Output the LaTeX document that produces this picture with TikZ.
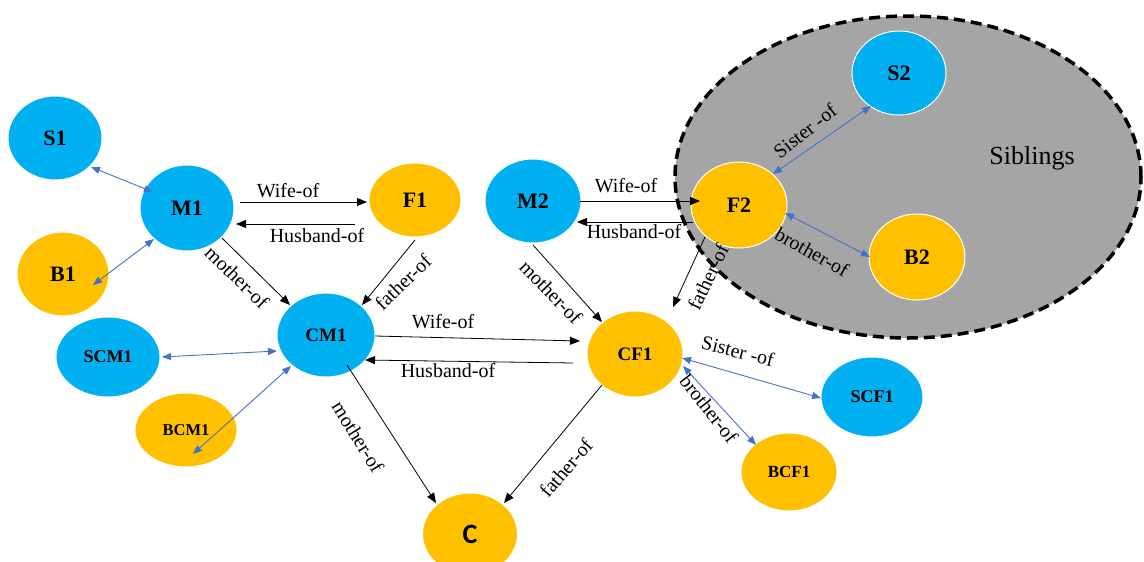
\documentclass[tikz,border=0pt]{standalone}
\usepackage{fontspec}
\setmainfont{Liberation Serif}
\newfontfamily\cfont{Carlito}
\usetikzlibrary{shapes.geometric,arrows.meta,calc}
\definecolor{nodeblue}{HTML}{00B0F0}
\definecolor{nodeorange}{HTML}{FFC000}
\definecolor{linkblue}{HTML}{4472C4}
\definecolor{sibgray}{HTML}{A5A5A5}
\tikzset{
  pnode/.style={ellipse, draw=white, line width=1pt, inner sep=0pt},
  blu/.style={pnode, fill=nodeblue},
  org/.style={pnode, fill=nodeorange},
  big/.style={font=\bfseries\fontsize{22}{24}\selectfont},
  mid/.style={font=\bfseries\fontsize{19}{21}\selectfont},
  sml/.style={font=\bfseries\fontsize{17}{19}\selectfont},
  rel/.style={draw=black, line width=0.8pt, -{Triangle[length=10pt,width=8pt]}},
  sib/.style={draw=linkblue, line width=0.9pt, {Triangle[length=9pt,width=7pt]}-{Triangle[length=9pt,width=7pt]}},
  lab/.style={font=\fontsize{20}{22}\selectfont, inner sep=0pt},
}
\begin{document}
\begin{tikzpicture}[x=1pt,y=-1pt]
\path[use as bounding box] (0,0) rectangle (1144,562);
% siblings group
\node (sibs) [ellipse, fill=sibgray, draw=black, line width=3.5pt, dash pattern=on 11pt off 6pt, minimum width=466pt, minimum height=322pt, inner sep=0pt] at (908,177) {};
\node (siblab) [font=\fontsize{26}{28}\selectfont, inner sep=0pt] at (1032,158) {Siblings};
% nodes
\node (S1) [blu,big,minimum width=94pt,minimum height=84pt] at (55,138) {S1};
\node (M1) [blu,big,minimum width=94pt,minimum height=86pt] at (187,208) {M1};
\node (F1) [org,big,minimum width=92pt,minimum height=74pt] at (415,200) {F1};
\node (B1) [org,big,minimum width=92pt,minimum height=84pt] at (63,274) {B1};
\node (CM1) [blu,mid,minimum width=98pt,minimum height=84pt] at (326,335) {CM1};
\node (SCM1) [blu,font=\bfseries\fontsize{18}{20}\selectfont,minimum width=104pt,minimum height=80pt] at (108,357) {SCM1};
\node (BCM1) [org,font=\bfseries\fontsize{16.5}{18}\selectfont,minimum width=102pt,minimum height=74pt] at (186,430) {BCM1};
\node (C) [org,font=\cfont\bfseries\fontsize{28}{30}\selectfont,minimum width=95pt,minimum height=82pt] at (470,534) {C};
\node (CF1) [org,mid,minimum width=96pt,minimum height=86pt] at (635,354) {CF1};
\node (BCF1) [org,sml,minimum width=96pt,minimum height=78pt] at (789,472) {BCF1};
\node (SCF1) [blu,font=\bfseries\fontsize{18}{20}\selectfont,minimum width=102pt,minimum height=80pt] at (872,397) {SCF1};
\node (M2) [blu,big,minimum width=96pt,minimum height=84pt] at (533,201) {M2};
\node (F2) [org,big,minimum width=96pt,minimum height=86pt] at (739,205) {F2};
\node (S2) [blu,big,minimum width=94pt,minimum height=84pt] at (899,73) {S2};
\node (B2) [org,big,minimum width=96pt,minimum height=86pt] at (917,257) {B2};
% blue sibling links
\draw[sib] ($(S1)+(36,29)$) -- ($(M1)+(-34,-16)$);
\draw[sib] ($(B1)+(30,11)$) -- ($(M1)+(-33,31)$);
\draw[sib] ($(SCM1)+(54,0)$) -- ($(CM1)+(-49,16)$);
\draw[sib] ($(BCM1)+(7,24)$) -- ($(CM1)+(-35,31)$);
\draw[sib] ($(F2)+(34,-31)$) -- ($(S2)+(-28,33)$);
\draw[sib] ($(F2)+(46,8)$) -- ($(B2)+(-47,0)$);
\draw[sib] ($(CF1)+(47,4)$) -- ($(SCF1)+(-51,1)$);
\draw[sib] ($(CF1)+(48,12)$) -- ($(BCF1)+(-33,-27)$);
% black relation links
\draw[rel] ($(M1)+(53,-6)$) -- ($(F1)+(-48,2)$);
\draw[rel] ($(F1)+(-60,24)$) -- ($(M1)+(49,16)$);
\draw[rel] ($(M1)+(35,30)$) -- ($(CM1)+(-36,-30)$);
\draw[rel] ($(F1)+(0,40)$) -- ($(CM1)+(36,-30)$);
\draw[rel] ($(CM1)+(49,1)$) -- ($(CF1)+(-55,-13)$);
\draw[rel] ($(CF1)+(-62,9)$) -- ($(CM1)+(39,25)$);
\draw[rel] ($(CM1)+(21,30)$) -- ($(C)+(-34,-31)$);
\draw[rel] ($(CF1)+(-33,31)$) -- ($(C)+(34,-31)$);
\draw[rel] ($(M2)+(47,0)$) -- ($(F2)+(-39,-4)$);
\draw[rel] ($(F2)+(-46,17)$) -- ($(M2)+(44,21)$);
\draw[rel] ($(M2)+(0,44)$) -- ($(CF1)+(-33,-32)$);
\draw[rel] ($(F2)+(-34,32)$) -- ($(CF1)+(38,-47)$);
% labels
\node (l1) [lab] at (288,191) {Wife-of};
\node (l2) [lab] at (317,236) {Husband-of};
\node (l3) [lab,rotate=-44] at (237,277) {mother-of};
\node (l4) [lab,rotate=44] at (403,282) {father-of};
\node (l5) [lab] at (443,322) {Wife-of};
\node (l6) [lab] at (448,371) {Husband-of};
\node (l7) [lab,rotate=-58] at (358,437) {mother-of};
\node (l8) [lab,rotate=49] at (566,468) {father-of};
\node (l9) [lab] at (626,186) {Wife-of};
\node (l10) [lab] at (634,232) {Husband-of};
\node (l11) [lab,rotate=-46] at (551,292) {mother-of};
\node (l12) [lab,rotate=64] at (708,277) {father-of};
\node (l13) [lab,rotate=38] at (805,131) {Sister -of};
\node (l14) [lab,rotate=-29] at (812,252) {brother-of};
\node (l15) [lab,rotate=-14] at (738,351) {Sister -of};
\node (l16) [lab,rotate=-52] at (709,409) {brother-of};
\end{tikzpicture}
\end{document}
